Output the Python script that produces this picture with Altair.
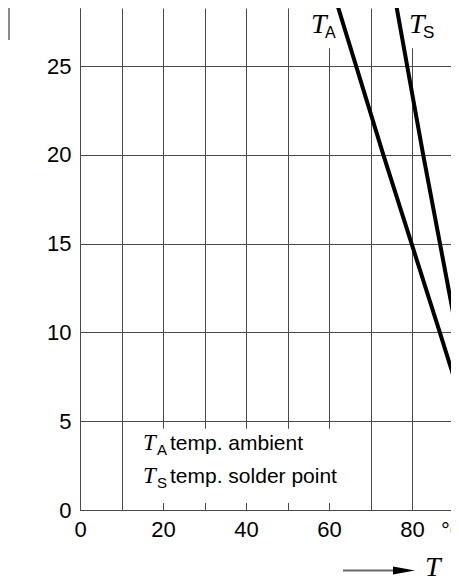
import altair as alt
import pandas as pd

# ---- data ----
ta_temp = [62.2, 73.1, 79.9, 86.7, 91.4]
ta_power = [28.3, 20.0, 15.0, 10.0, 6.5]
ts_temp = [76.3, 82.7, 89.9, 91.4]
ts_power = [28.3, 20.0, 11.1, 9.2]
x_ticks = [0, 10, 20, 30, 40, 50, 60, 70, 80, 90]
x_label_values = [0, 20, 40, 60, 80]
y_ticks = [0, 5, 10, 15, 20, 25]

PX_PER_X = 4.15          # pixels per °C in the reference
W, H = 371, 502
X_MAX = W / PX_PER_X
Y_MAX = 28.27

SANS = "Liberation Sans"
SERIF = "Liberation Serif"
GRID = "#4a4a4a"

df = pd.concat([
    pd.DataFrame({"T": ta_temp, "P": ta_power, "s": "TA"}),
    pd.DataFrame({"T": ts_temp, "P": ts_power, "s": "TS"}),
])

xs = alt.Scale(domain=[0, X_MAX], nice=False, zero=False)
ys = alt.Scale(domain=[0, Y_MAX], nice=False, zero=False)

label_expr = "indexof([" + ",".join(str(v) for v in x_label_values) + "], datum.value) >= 0 ? datum.label : ''"

xaxis = alt.Axis(values=x_ticks, labelExpr=label_expr, grid=True, gridColor=GRID, gridWidth=1,
                 domainColor=GRID, domainWidth=1, ticks=False, labelFont=SANS, labelFontSize=22,
                 labelColor="black", labelPadding=9, labelFlush=False, labelOverlap=False, title=None)
yaxis = alt.Axis(values=y_ticks, grid=True, gridColor=GRID, gridWidth=1,
                 domainColor=GRID, domainWidth=1, ticks=False, labelFont=SANS, labelFontSize=22,
                 labelColor="black", labelPadding=9, labelFlush=False, labelOverlap=False,
                 labelBaseline="middle", title=None)

# white boxes that interrupt the grid behind the annotation texts
boxes = pd.DataFrame({
    "x": [10.6, 57.5, 77.5],
    "x2": [69.4, 64.0, 84.5],
    "y": [0.4, 26.0, 26.0],
    "y2": [4.57, Y_MAX, Y_MAX],
})
box_layer = alt.Chart(boxes).mark_rect(color="white").encode(
    x=alt.X("x:Q", scale=xs, axis=xaxis),
    x2="x2:Q",
    y=alt.Y("y:Q", scale=ys, axis=yaxis),
    y2="y2:Q",
)

lines = alt.Chart(df).mark_line(color="black", strokeWidth=4, clip=True).encode(
    x=alt.X("T:Q", scale=xs),
    y=alt.Y("P:Q", scale=ys),
    detail="s:N",
)


def txt(text, x, y, font=SANS, size=21, italic=False, align="left"):
    kw = dict(text=text, font=font, fontSize=size, align=align, baseline="alphabetic", color="black")
    if italic:
        kw["fontStyle"] = "italic"
    return alt.Chart().mark_text(**kw).encode(x=alt.value(x), y=alt.value(y))


texts = [
    # top curve labels
    txt("T", 231, 25, SERIF, 28, True), txt("A", 245, 30, SANS, 16),
    txt("T", 329, 25, SERIF, 28, True), txt("S", 343, 30, SANS, 17),
    # legend
    txt("T", 63, 442, SERIF, 23, True), txt("A", 77, 447, SANS, 15),
    txt("temp. ambient", 90, 442),
    txt("T", 63, 475, SERIF, 23, True), txt("S", 77, 480, SANS, 15),
    txt("temp. solder point", 90, 475),
    # unit and axis symbol
    txt("°C", 361, 530, SANS, 22),
    txt("T", 345, 568, SERIF, 28, True),
]

arrow_line = alt.Chart().mark_rule(color="#666666", strokeWidth=2).encode(
    x=alt.value(263), x2=alt.value(314), y=alt.value(562.5))
arrow_head = alt.Chart().mark_point(
    shape="M -1 -0.36 L 1 0 L -1 0.36 Z", filled=True, color="black", opacity=1, size=484
).encode(x=alt.value(324), y=alt.value(562.5))
yaxis_stub = alt.Chart().mark_rule(color="#666666", strokeWidth=1.5).encode(
    x=alt.value(-71), y=alt.value(0), y2=alt.value(32))

chart = alt.layer(box_layer, lines, *texts, arrow_line, arrow_head, yaxis_stub).properties(
    width=W, height=H, autosize="none",
    padding={"left": 72, "top": 0, "right": 0, "bottom": 71},
).configure_view(strokeWidth=0)

chart.save("out.html", embed_options={"renderer": "svg", "actions": False})
